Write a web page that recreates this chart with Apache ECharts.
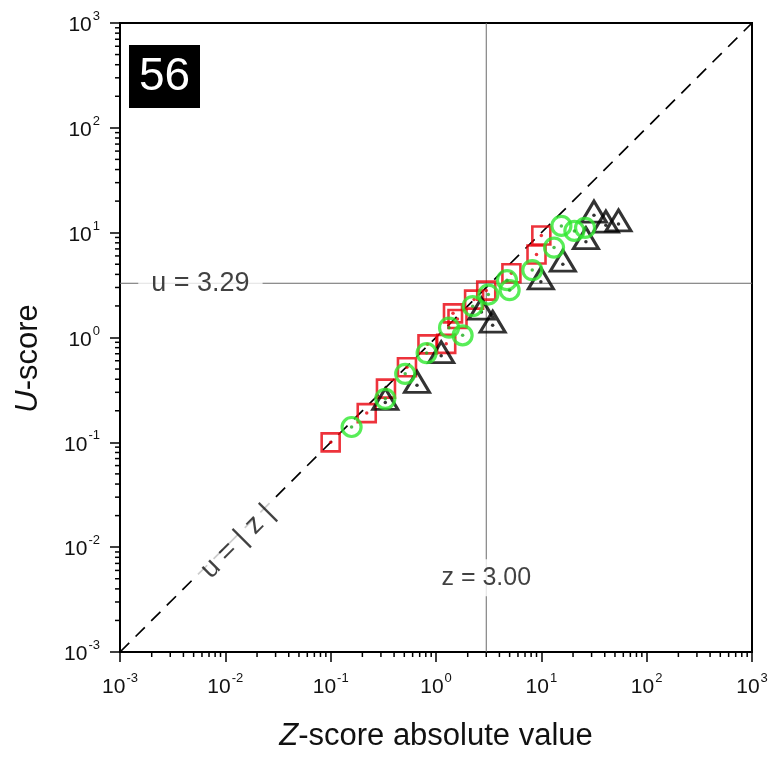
<!DOCTYPE html>
<html><head><meta charset="utf-8">
<script src="https://cdn.jsdelivr.net/npm/echarts@6/dist/echarts.min.js"></script>
<style>html,body{margin:0;padding:0;background:#fff}#c{width:773px;height:757px}</style>
</head><body><div id="c"></div>
<script>
const FONT = "'Liberation Sans', Arial, Helvetica, sans-serif";

// Axis range / ticks
const axisMin = 0.001;
const axisMax = 1000;
const minorMantissas = [2, 3, 4, 5, 6, 7, 8, 9];
const decades = [0.001, 0.01, 0.1, 1, 10, 100];

// Red squares (|z|, u)
const squareZ = [0.10, 0.22, 0.335, 0.53, 0.83, 1.25, 1.45, 1.6, 2.3, 3.0, 5.2, 9.0, 10.0];
const squareU = [0.10, 0.19, 0.325, 0.52, 0.86, 0.87, 1.7, 1.5, 2.3, 2.8, 4.1, 6.2, 9.4];

// Black triangles (|z|, u)
const triZ = [0.33, 0.66, 1.12, 2.7, 3.45, 9.9, 16, 26.5, 31.6, 41, 54];
const triU = [0.24, 0.35, 0.67, 1.75, 1.31, 3.4, 5.0, 8.2, 14.7, 11.8, 12.1];

// Green circles (|z|, u)
const circZ = [0.158, 0.33, 0.51, 0.815, 1.33, 1.79, 2.23, 3.14, 4.72, 5.0, 8.2, 13.2, 15.5, 20.6, 26];
const circU = [0.14, 0.26, 0.45, 0.71, 1.24, 1.05, 1.99, 2.57, 3.52, 2.83, 4.4, 7.2, 11.6, 10.4, 11.1];

// Reference values
const refZ = 3.00;
const refU = 3.29;

const zip = (a, b) => a.map((v, i) => [v, b[i]]);
const minorTicks = [];
decades.forEach(d => minorMantissas.forEach(m => minorTicks.push(m * d)));

function expLabel(v) {
  const e = Math.round(Math.log10(v));
  return '{b|10}{s|' + e + '}';
}
const tickRich = {
  b: { fontSize: 21, fontFamily: FONT, color: '#111', lineHeight: 26, verticalAlign: 'bottom' },
  s: { fontSize: 13, fontFamily: FONT, color: '#111', lineHeight: 14, verticalAlign: 'top', padding: [0, 0, 0, 1] }
};

const chart = echarts.init(document.getElementById('c'));

function minorTickSeries(axis) {
  return {
    type: 'custom', silent: true, clip: false, z: 6,
    data: minorTicks.map(v => axis === 'x' ? [v, axisMin] : [axisMin, v]),
    renderItem: (params, api) => {
      const p = api.coord([api.value(0), api.value(1)]);
      const shape = axis === 'x'
        ? { x1: p[0], y1: p[1], x2: p[0], y2: p[1] + 5 }
        : { x1: p[0] - 5, y1: p[1], x2: p[0], y2: p[1] };
      return { type: 'line', shape, style: { stroke: '#000', lineWidth: 1.5 } };
    }
  };
}

function labelSeries(x, y, text, opts) {
  return {
    type: 'scatter', silent: true, z: 4,
    symbolSize: 0,
    data: [[x, y]],
    label: Object.assign({
      show: true, position: 'inside', formatter: text,
      fontSize: 25, fontFamily: FONT, color: '#111',
      backgroundColor: '#fff'
    }, opts)
  };
}

const option = {
  animation: false,
  backgroundColor: '#fff',
  grid: { left: 120, right: 21, top: 23, bottom: 105, show: true, borderColor: '#000', borderWidth: 2, containLabel: false },
  xAxis: {
    type: 'log', logBase: 10, min: axisMin, max: axisMax, splitNumber: 6,
    axisLine: { show: true, onZero: false, lineStyle: { color: '#000', width: 2 } },
    axisTick: { show: true, length: 10, lineStyle: { color: '#000', width: 1.5 } },
    axisLabel: { formatter: expLabel, margin: 20, rich: tickRich },
    splitLine: { show: false },
    name: '{i|Z}{n|-score absolute value}',
    nameLocation: 'middle', nameGap: 66,
    nameTextStyle: {
      rich: {
        i: { fontSize: 31, fontStyle: 'italic', fontFamily: FONT, color: '#111', lineHeight: 36 },
        n: { fontSize: 31, fontFamily: FONT, color: '#111', lineHeight: 36 }
      }
    }
  },
  yAxis: {
    type: 'log', logBase: 10, min: axisMin, max: axisMax, splitNumber: 6,
    axisLine: { show: true, onZero: false, lineStyle: { color: '#000', width: 2 } },
    axisTick: { show: true, length: 10, lineStyle: { color: '#000', width: 1.5 } },
    axisLabel: { formatter: expLabel, margin: 20, rich: tickRich },
    splitLine: { show: false },
    name: '{i|U}{n|-score}',
    nameLocation: 'middle', nameGap: 74,
    nameTextStyle: {
      padding: [0, 42, 0, 0],
      rich: {
        i: { fontSize: 31, fontStyle: 'italic', fontFamily: FONT, color: '#111', lineHeight: 36 },
        n: { fontSize: 31, fontFamily: FONT, color: '#111', lineHeight: 36 }
      }
    }
  },
  graphic: [{
    type: 'group', left: 129, top: 45, z: 20,
    children: [
      { type: 'rect', shape: { x: 0, y: 0, width: 71, height: 63 }, style: { fill: '#000' } },
      { type: 'text', x: 35.5, y: 32, style: { text: '56', fill: '#fff', fontSize: 46, fontFamily: FONT, align: 'center', verticalAlign: 'middle' } }
    ]
  }],
  series: [
    { type: 'line', silent: true, z: 1, symbol: 'none', data: [[refZ, axisMin], [refZ, axisMax]],
      lineStyle: { color: '#6b6b6b', width: 1 } },
    { type: 'line', silent: true, z: 1, symbol: 'none', data: [[axisMin, refU], [axisMax, refU]],
      lineStyle: { color: '#6b6b6b', width: 1 } },
    { type: 'line', silent: true, z: 1, symbol: 'none', data: [[axisMin, axisMin], [axisMax, axisMax]],
      lineStyle: { color: '#000', width: 1.7, type: [13, 9] } },
    labelSeries(0.0058, refU, 'u = 3.29', { fontSize: 27, padding: [3, 13] }),
    labelSeries(refZ, 0.0051, 'z = 3.00', { fontSize: 25, padding: [6, 4] }),
    labelSeries(0.0131, 0.0113, 'u = | z |', { fontSize: 28, rotate: 45, padding: [2, 10] }),
    minorTickSeries('x'),
    minorTickSeries('y'),
    { type: 'scatter', z: 3, symbol: 'rect', symbolSize: 18, data: zip(squareZ, squareU),
      itemStyle: { color: 'rgba(0,0,0,0)', borderColor: '#e8000b', borderWidth: 2.6 } },
    { type: 'scatter', z: 3, symbol: 'circle', symbolSize: 3.5, data: zip(squareZ, squareU),
      itemStyle: { color: '#e8000b' } },
    { type: 'scatter', z: 3, symbol: 'triangle', symbolSize: [25, 21], symbolOffset: [0, -3.5], data: zip(triZ, triU),
      itemStyle: { color: 'rgba(0,0,0,0)', borderColor: '#000', borderWidth: 3 } },
    { type: 'scatter', z: 3, symbol: 'circle', symbolSize: 3.5, data: zip(triZ, triU),
      itemStyle: { color: '#000' } },
    { type: 'scatter', z: 3, symbol: 'circle', symbolSize: 19, data: zip(circZ, circU),
      itemStyle: { color: 'rgba(0,0,0,0)', borderColor: '#2ee82e', borderWidth: 3.2 } },
    { type: 'scatter', z: 3, symbol: 'circle', symbolSize: 3.5, data: zip(circZ, circU),
      itemStyle: { color: '#1fae1f' } }
  ]
};
chart.setOption(option);
</script>
</body></html>
